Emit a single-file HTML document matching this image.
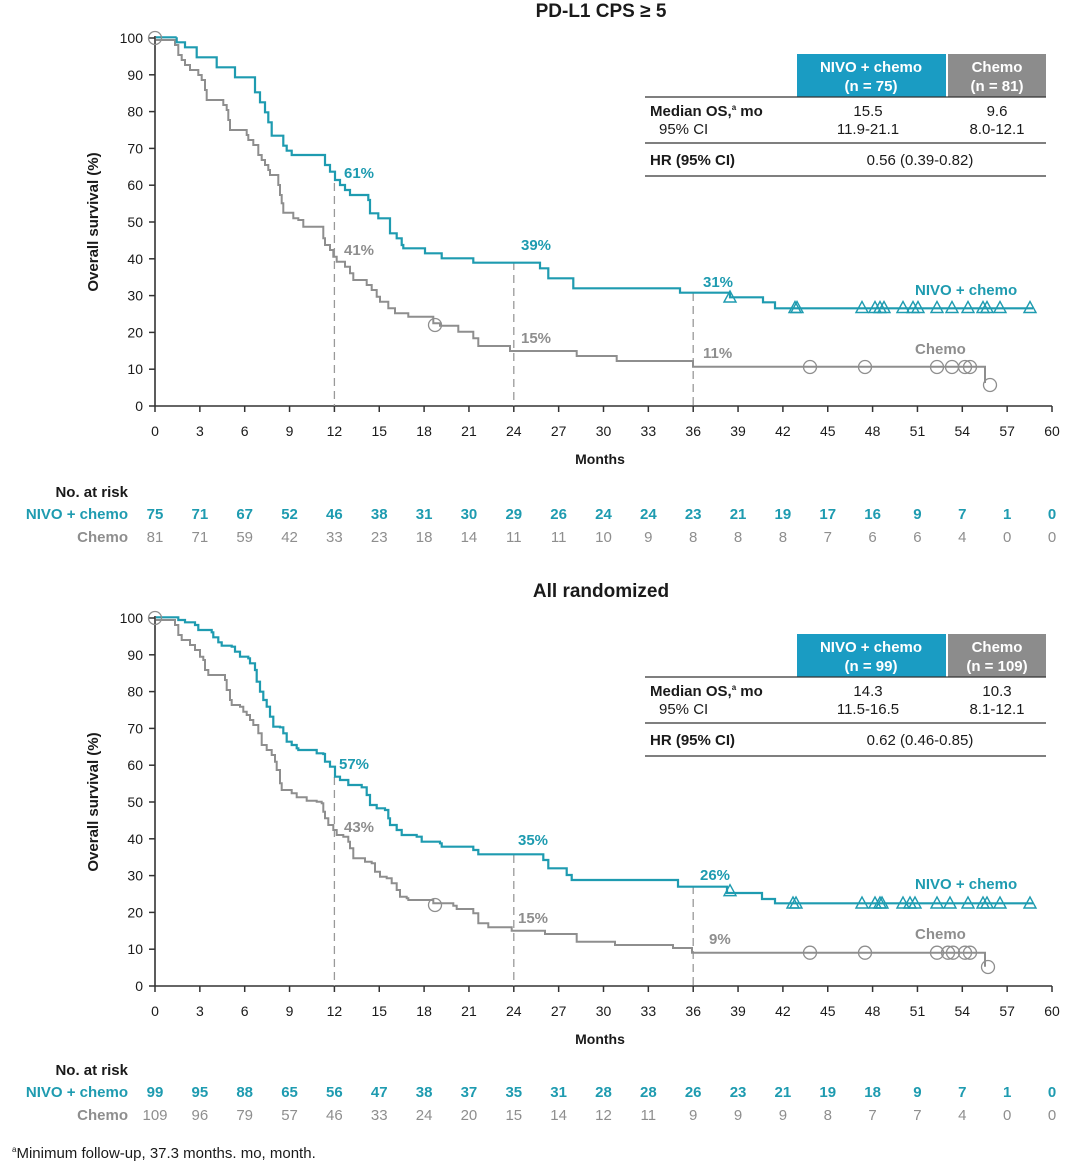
<!DOCTYPE html>
<html><head><meta charset="utf-8">
<style>
html,body{margin:0;padding:0;background:#fff;}
svg{display:block;font-family:"Liberation Sans","DejaVu Sans",sans-serif;}
</style></head>
<body>
<svg id="s" width="1080" height="1170" viewBox="0 0 1080 1170" xmlns="http://www.w3.org/2000/svg"></svg>
<script>
const T="#1e9bb0",G="#8e8e8e",K="#1a1a1a";
const s=document.getElementById('s');
let h='';
function x(m){return 155+m*14.95;}
function stepPath(pts){let d='M'+pts[0][0]+' '+pts[0][1];for(let i=1;i<pts.length;i++){d+=' H'+pts[i][0].toFixed(1)+' V'+pts[i][1].toFixed(1);}return d;}
function conv(arr,oy){return arr.map(p=>[140+p[0]/3,oy+p[1]/3]);}
function panel(top,title,opts){
  const y0=top+368,y100=top;
  h+=`<text x="601" y="${top-21}" text-anchor="middle" font-size="19" font-weight="bold" fill="${K}">${title}</text>`;
  h+=`<line x1="155" y1="${y100-2}" x2="155" y2="${y0}" stroke="#333" stroke-width="1.6"/>`;
  h+=`<line x1="155" y1="${y0}" x2="1052" y2="${y0}" stroke="#333" stroke-width="1.6"/>`;
  for(let p=0;p<=100;p+=10){const yy=y0-p*3.68;h+=`<line x1="149" y1="${yy}" x2="155" y2="${yy}" stroke="#333" stroke-width="1.5"/><text x="143" y="${yy+5}" text-anchor="end" font-size="14" fill="${K}">${p}</text>`;}
  for(let m=0;m<=60;m+=3){const xx=x(m);h+=`<line x1="${xx}" y1="${y0}" x2="${xx}" y2="${y0+6}" stroke="#333" stroke-width="1.5"/><text x="${xx}" y="${y0+30}" text-anchor="middle" font-size="14" fill="${K}">${m}</text>`;}
  h+=`<text x="600" y="${y0+58}" text-anchor="middle" font-size="14" font-weight="bold" fill="${K}">Months</text>`;
  h+=`<text transform="translate(98 ${top+184}) rotate(-90)" text-anchor="middle" font-size="15" font-weight="bold" fill="${K}">Overall survival (%)</text>`;
  opts.dash.forEach(d=>{h+=`<line x1="${x(d[0])}" y1="${d[1]}" x2="${x(d[0])}" y2="${y0}" stroke="#999" stroke-width="1.3" stroke-dasharray="8,5"/>`;});
  h+=`<path d="${stepPath(opts.gray)}" fill="none" stroke="${G}" stroke-width="2"/>`;
  h+=`<path d="${stepPath(opts.teal)}" fill="none" stroke="${T}" stroke-width="2.2"/>`;
  opts.circ.forEach(c=>{h+=`<circle cx="${c[0]}" cy="${c[1]}" r="6.5" fill="none" stroke="${G}" stroke-width="1.3"/>`;});
  opts.tri.forEach(t=>{h+=`<path d="M${t[0]-6} ${t[1]+5} L${t[0]} ${t[1]-6} L${t[0]+6} ${t[1]+5} Z" fill="none" stroke="${T}" stroke-width="1.4"/>`;});
  opts.lab.forEach(l=>{h+=`<text x="${l[0]}" y="${l[1]}" font-size="15" font-weight="bold" fill="${l[3]}">${l[2]}</text>`;});
  const ty=top+16;
  h+=`<rect x="797" y="${ty}" width="149" height="43" fill="#1a9cc3"/><rect x="948" y="${ty}" width="98" height="43" fill="#8c8c8c"/>`;
  h+=`<text x="871" y="${ty+18}" text-anchor="middle" font-size="15" font-weight="bold" fill="#fff">NIVO + chemo</text><text x="871" y="${ty+37}" text-anchor="middle" font-size="15" font-weight="bold" fill="#fff">(n = ${opts.n[0]})</text>`;
  h+=`<text x="997" y="${ty+18}" text-anchor="middle" font-size="15" font-weight="bold" fill="#fff">Chemo</text><text x="997" y="${ty+37}" text-anchor="middle" font-size="15" font-weight="bold" fill="#fff">(n = ${opts.n[1]})</text>`;
  h+=`<line x1="645" y1="${ty+43}" x2="1046" y2="${ty+43}" stroke="#333" stroke-width="1.3"/><line x1="645" y1="${ty+89}" x2="1046" y2="${ty+89}" stroke="#333" stroke-width="1.3"/><line x1="645" y1="${ty+122}" x2="1046" y2="${ty+122}" stroke="#333" stroke-width="1.3"/>`;
  h+=`<text x="650" y="${ty+62}" font-size="15" font-weight="bold" fill="${K}">Median OS,<tspan font-size="8" dy="-6">a</tspan><tspan dy="6"> mo</tspan></text>`;
  h+=`<text x="659" y="${ty+80}" font-size="15" fill="${K}">95% CI</text>`;
  h+=`<text x="868" y="${ty+62}" text-anchor="middle" font-size="15" fill="${K}">${opts.med[0]}</text><text x="868" y="${ty+80}" text-anchor="middle" font-size="15" fill="${K}">${opts.med[1]}</text>`;
  h+=`<text x="997" y="${ty+62}" text-anchor="middle" font-size="15" fill="${K}">${opts.med[2]}</text><text x="997" y="${ty+80}" text-anchor="middle" font-size="15" fill="${K}">${opts.med[3]}</text>`;
  h+=`<text x="650" y="${ty+111}" font-size="15" font-weight="bold" fill="${K}">HR (95% CI)</text><text x="920" y="${ty+111}" text-anchor="middle" font-size="15" fill="${K}">${opts.hr}</text>`;
  const ry=opts.ry;
  h+=`<text x="128" y="${ry}" text-anchor="end" font-size="15" font-weight="bold" fill="${K}">No. at risk</text>`;
  h+=`<text x="128" y="${ry+22}" text-anchor="end" font-size="15" font-weight="bold" fill="${T}">NIVO + chemo</text>`;
  h+=`<text x="128" y="${ry+45}" text-anchor="end" font-size="15" font-weight="bold" fill="${G}">Chemo</text>`;
  opts.rt.forEach((v,i)=>{h+=`<text x="${x(i*3)}" y="${ry+22}" text-anchor="middle" font-size="15" font-weight="bold" fill="${T}">${v}</text>`;});
  opts.rc.forEach((v,i)=>{h+=`<text x="${x(i*3)}" y="${ry+45}" text-anchor="middle" font-size="15" fill="${G}">${v}</text>`;});
}
let tealA=conv([[48,22],[110,22],[110,37],[135,52],[170,52],[170,82],[215,82],[230,97],[230,112],[275,112],[285,142],[330,142],[345,157],[345,187],[360,217],[375,247],[385,277],[395,317],[420,317],[430,347],[440,362],[455,375],[550,375],[555,405],[570,425],[585,450],[600,465],[615,480],[630,495],[665,495],[685,510],[690,550],[715,565],[745,565],[750,610],[770,625],[785,645],[790,655],[850,655],[855,670],[905,670],[905,685],[995,685],[1000,698],[1190,698],[1200,715],[1225,745],[1275,745],[1300,775],[1440,775]],30);
tealA=tealA.concat([[680,292.7],[730,297.3],[763,302.3],[775,308.3],[1033,308.3]]);
let grayA=conv([[48,30],[100,30],[105,45],[115,75],[125,90],[135,105],[150,120],[175,135],[185,150],[195,180],[200,210],[235,210],[250,225],[260,240],[265,270],[270,300],[305,300],[320,315],[325,330],[340,345],[355,375],[365,390],[375,405],[385,420],[390,435],[405,435],[415,465],[420,495],[425,520],[430,548],[445,548],[460,565],[475,570],[490,590],[540,590],[550,625],[555,645],[570,660],[580,680],[590,695],[605,695],[615,710],[630,730],[640,750],[665,750],[680,765],[695,780],[710,800],[720,815],[745,835],[765,850],[800,850],[805,860],[870,860],[880,880],[900,887],[950,887],[955,905],[990,905],[1000,925],[1015,948],[1105,948],[1110,963],[1305,963],[1310,978],[1425,978],[1430,993],[1440,993]],30);
grayA=grayA.concat([[693,366.7],[985,383]]);
panel(38,"PD-L1 CPS ≥ 5",{
  teal:tealA,gray:grayA,
  dash:[[12,183],[24,262],[36,293]],
  circ:[[155,38],[435,325],[810,367],[865,367],[937,367],[952,367],[965,367],[970,367],[990,385]],
  tri:[[730,297],[795,307.5],[797,307.5],[862,307.5],[875,307.5],[880,307.5],[884,307.5],[903,307.5],[913,307.5],[918,307.5],[937,307.5],[952,307.5],[968,307.5],[983,307.5],[987,307.5],[1000,307.5],[1030,307.5]],
  lab:[[344,178,"61%",T],[344,255,"41%",G],[521,250,"39%",T],[521,343,"15%",G],[703,287,"31%",T],[703,358,"11%",G],[915,295,"NIVO + chemo",T],[915,354,"Chemo",G]],
  n:[75,81],med:["15.5","11.9-21.1","9.6","8.0-12.1"],hr:"0.56 (0.39-0.82)",
  ry:497,rt:[75,71,67,52,46,38,31,30,29,26,24,24,23,21,19,17,16,9,7,1,0],rc:[81,71,59,42,33,23,18,14,11,11,10,9,8,8,8,7,6,6,4,0,0]
});
let tealB=conv([[48,22],[110,22],[115,30],[135,37],[165,45],[175,60],[215,67],[220,82],[235,97],[245,107],[275,110],[285,125],[300,140],[325,145],[330,160],[345,180],[350,215],[360,245],[370,270],[380,290],[390,320],[400,350],[420,352],[430,370],[440,395],[455,405],[470,415],[475,420],[520,420],[530,430],[550,432],[555,455],[570,470],[585,500],[600,510],[625,525],[665,532],[680,555],[690,585],[710,595],[735,600],[745,625],[750,645],[770,660],[785,675],[830,680],[845,695],[900,700],[905,710],[995,710],[1000,720],[1015,733],[1190,733],[1210,750],[1225,775],[1265,775],[1280,795],[1295,810],[1440,810]],610);
tealB=tealB.concat([[678,886.7],[727,893],[762,899],[775,903.3],[1033,903.3]]);
let grayB=conv([[48,30],[100,30],[105,45],[115,75],[125,90],[150,105],[165,120],[180,140],[190,150],[195,180],[205,195],[240,195],[255,210],[260,240],[270,270],[275,285],[300,290],[310,305],[320,315],[330,330],[340,345],[355,370],[365,405],[380,420],[395,435],[405,455],[410,480],[420,520],[425,540],[440,540],[455,550],[470,562],[500,572],[530,575],[545,580],[550,605],[555,625],[565,645],[580,660],[590,675],[610,680],[625,695],[630,715],[640,745],[665,745],[675,755],[695,760],[705,785],[720,800],[740,805],[755,820],[770,840],[780,860],[800,865],[805,870],[870,870],[880,880],[940,887],[950,897],[990,897],[1000,910],[1015,940],[1040,940],[1045,952],[1105,952],[1115,962],[1210,962],[1215,972],[1300,972],[1310,995],[1420,995],[1425,1005],[1440,1005]],610);
grayB=grayB.concat([[673,948],[692,952.7],[985,966.7]]);
panel(618,"All randomized",{
  teal:tealB,gray:grayB,
  dash:[[12,777],[24,855],[36,886]],
  circ:[[155,618],[435,905],[810,952.7],[865,952.7],[937,952.7],[948,952.7],[953,952.7],[965,952.7],[970,952.7],[988,967]],
  tri:[[730,890.7],[793,903],[796,903],[862,903],[875,903],[880,903],[882,903],[903,903],[910,903],[915,903],[937,903],[950,903],[968,903],[983,903],[987,903],[1000,903],[1030,903]],
  lab:[[339,769,"57%",T],[344,832,"43%",G],[518,845,"35%",T],[518,923,"15%",G],[700,880,"26%",T],[709,944,"9%",G],[915,889,"NIVO + chemo",T],[915,939,"Chemo",G]],
  n:[99,109],med:["14.3","11.5-16.5","10.3","8.1-12.1"],hr:"0.62 (0.46-0.85)",
  ry:1075,rt:[99,95,88,65,56,47,38,37,35,31,28,28,26,23,21,19,18,9,7,1,0],rc:[109,96,79,57,46,33,24,20,15,14,12,11,9,9,9,8,7,7,4,0,0]
});
h+=`<text x="12" y="1158" font-size="15" fill="${K}"><tspan font-size="8" dy="-6">a</tspan><tspan dy="6">Minimum follow-up, 37.3 months. mo, month.</tspan></text>`;
s.innerHTML=h;
</script>
</body></html>
